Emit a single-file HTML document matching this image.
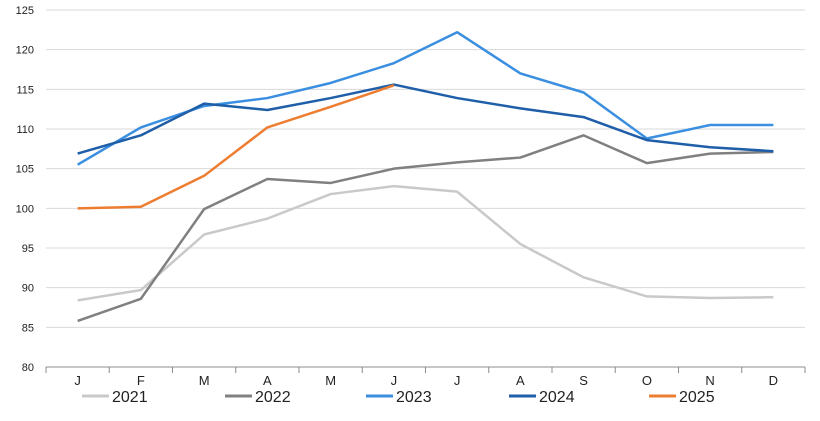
<!DOCTYPE html>
<html><head><meta charset="utf-8"><style>
html,body{margin:0;padding:0;background:#fff;}
svg{display:block;font-family:"Liberation Sans",Arial,sans-serif;}
</style></head><body>
<svg id="chart" width="820" height="421" viewBox="0 0 820 421" xmlns="http://www.w3.org/2000/svg">
<g id="grid"></g>
<g id="yaxis"></g>
<g id="xaxis"></g>
<g id="series"></g>
<g id="legend"></g>
</svg>
<script>
const months = ["J","F","M","A","M","J","J","A","S","O","N","D"];
const yTicks = [80,85,90,95,100,105,110,115,120,125];
const seriesNames = ["2021","2022","2023","2024","2025"];
const seriesColors = ["#c9c9c9","#808080","#3b8fe0","#1f5ea8","#ed7d31"];
const s2021 = [88.4,89.7,96.7,98.7,101.8,102.8,102.1,95.5,91.3,88.9,88.7,88.8];
const s2022 = [85.8,88.6,99.9,103.7,103.2,105.0,105.8,106.4,109.2,105.7,106.9,107.1];
const s2023 = [105.5,110.2,112.9,113.9,115.8,118.3,122.2,117.0,114.6,108.8,110.5,110.5];
const s2024 = [106.9,109.2,113.2,112.4,113.9,115.6,113.9,112.6,111.5,108.6,107.7,107.2];
const s2025 = [100.0,100.2,104.1,110.2,112.8,115.5];
const allSeries = [s2021,s2022,s2023,s2024,s2025];

const NS="http://www.w3.org/2000/svg";
const L=46,R=805,T=10,B=367,yMin=80,yMax=125;
const band=(R-L)/months.length;
const x=i=>L+band*(i+0.5);
const y=v=>B-(v-yMin)/(yMax-yMin)*(B-T);
function mk(tag,parent,attrs){const e=document.createElementNS(NS,tag);for(const k in attrs)e.setAttribute(k,attrs[k]);parent.appendChild(e);return e;}
const grid=document.getElementById('grid'),ya=document.getElementById('yaxis'),xa=document.getElementById('xaxis'),sg=document.getElementById('series'),lg=document.getElementById('legend');
yTicks.forEach(v=>{
  if(v!==yMin){const g=mk('line',grid,{x1:L,x2:R,y1:y(v),y2:y(v),stroke:'#d9d9d9','stroke-width':1});
  
  }
  const t=mk('text',ya,{x:34,y:y(v)+4,'text-anchor':'end','font-size':11,fill:'#222'});
  t.textContent=v;
  
  
});
const ax=mk('line',xa,{x1:L,x2:R,y1:B,y2:B,stroke:'#8c8c8c','stroke-width':1});


for(let i=0;i<=months.length;i++){
  const tk=mk('line',xa,{x1:L+band*i,x2:L+band*i,y1:B,y2:B+6,stroke:'#8c8c8c'});
  
  
}
months.forEach((m,i)=>{
  const t=mk('text',xa,{x:x(i),y:385,'text-anchor':'middle','font-size':13,fill:'#222'});
  t.textContent=m;
  
  
});
allSeries.forEach((s,k)=>{
  const p=mk('polyline',sg,{points:s.map((v,i)=>x(i)+','+y(v)).join(' '),fill:'none',stroke:seriesColors[k],'stroke-width':2.5,'stroke-linejoin':'round'});
  
  
});
const lx=[82,225,366,509,649];
seriesNames.forEach((n,k)=>{
  const l=mk('line',lg,{x1:lx[k],x2:lx[k]+27,y1:396,y2:396,stroke:seriesColors[k],'stroke-width':3});
  
  
  const t=mk('text',lg,{x:lx[k]+30,y:402,'font-size':16,fill:'#222'});
  t.textContent=n;
  
  
});
</script>
</body></html>
